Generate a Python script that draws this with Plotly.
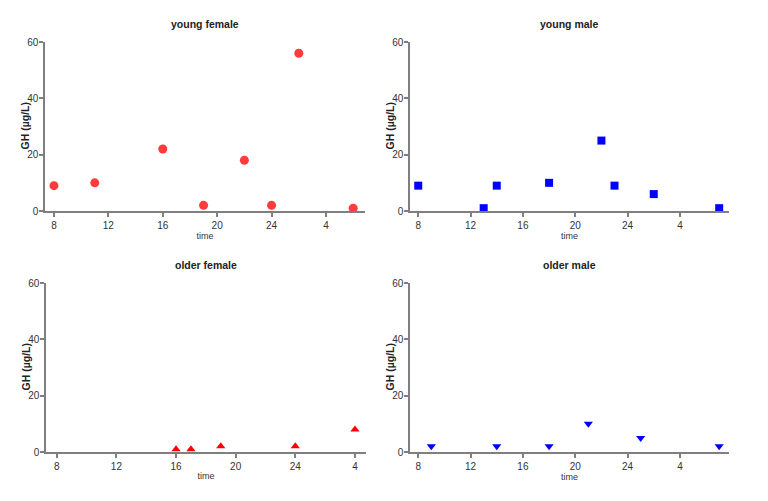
import plotly.graph_objects as go

tick_vals = [8, 12, 16, 20, 24, 28]
tick_text = ["8", "12", "16", "20", "24", "4"]

yf_time = [8, 11, 16, 19, 22, 24, 26, 30]
yf_gh = [9, 10, 22, 2, 18, 2, 56, 1]

ym_time = [8, 13, 14, 18, 22, 23, 26, 31]
ym_gh = [9, 1, 9, 10, 25, 9, 6, 1]

of_time = [16, 17, 19, 24, 28]
of_gh = [1, 1, 2, 2, 8]

om_time = [9, 14, 18, 21, 25, 31]
om_gh = [2, 2, 2, 10, 5, 2]

W, H = 768, 501
OFF = 8  # page body margin offset
FONT = "Liberation Sans, Arial, sans-serif"

panels = [
    dict(title="young female", x=yf_time, y=yf_gh, sym="circle", color="#ff3b3b", size=9,
         px=(45, 365), py=(42, 211), xr=(7.34, 30.87)),
    dict(title="young male", x=ym_time, y=ym_gh, sym="square", color="#0000ff", size=8,
         px=(410, 729), py=(42, 211), xr=(7.37, 31.75)),
    dict(title="older female", x=of_time, y=of_gh, sym="triangle-up", color="#ff0000", size=8,
         px=(46, 366), py=(283, 452), xr=(7.28, 28.74)),
    dict(title="older male", x=om_time, y=om_gh, sym="triangle-down", color="#0000ff", size=8,
         px=(410, 729), py=(283, 452), xr=(7.37, 31.75)),
]

fig = go.Figure()
layout = dict(
    width=W, height=H, margin=dict(l=0, r=0, t=0, b=0, autoexpand=False),
    plot_bgcolor="white", paper_bgcolor="white", showlegend=False,
    font=dict(family=FONT, color="#333333", size=10),
)
annotations = []
for i, p in enumerate(panels, start=1):
    xa = "x" if i == 1 else f"x{i}"
    ya = "y" if i == 1 else f"y{i}"
    fig.add_trace(go.Scatter(
        x=p["x"], y=p["y"], mode="markers", xaxis=xa, yaxis=ya,
        marker=dict(symbol=p["sym"], color=p["color"], size=p["size"],
                    line=dict(width=0)),
    ))
    x0, x1 = (p["px"][0] - OFF) / W, (p["px"][1] - OFF) / W
    y0, y1 = 1 - (p["py"][1] - OFF) / H, 1 - (p["py"][0] - OFF) / H
    xkey = "xaxis" if i == 1 else f"xaxis{i}"
    ykey = "yaxis" if i == 1 else f"yaxis{i}"
    layout[xkey] = dict(
        domain=[x0, x1], anchor=ya, range=list(p["xr"]),
        tickmode="array", tickvals=tick_vals, ticktext=tick_text,
        showline=True, linecolor="#7f7f7f", linewidth=1.5,
        ticks="outside", ticklen=4, tickcolor="#7f7f7f", tickwidth=1.5,
        showgrid=False, zeroline=False,
        tickfont=dict(size=10, color="#333333"),
        title=dict(text="time", font=dict(size=9, color="#333333"), standoff=2),
    )
    layout[ykey] = dict(
        domain=[y0, y1], anchor=xa, range=[0, 60],
        tickmode="array", tickvals=[0, 20, 40, 60],
        showline=True, linecolor="#7f7f7f", linewidth=1.5,
        ticks="outside", ticklen=4, tickcolor="#7f7f7f", tickwidth=1.5,
        ticklabelstandoff=-1,
        showgrid=False, zeroline=False,
        tickfont=dict(size=10, color="#333333"),
    )
    annotations.append(dict(
        text=f"<b>{p['title']}</b>", x=(x0 + x1) / 2, xref="paper",
        y=1 - (p["py"][0] - 18 - OFF) / H, yref="paper",
        xanchor="center", yanchor="middle", showarrow=False,
        font=dict(size=10.5, color="#222222", family=FONT),
    ))
    annotations.append(dict(
        text="<b>GH (µg/L)</b>", textangle=-90,
        x=(p["px"][0] - 21 - OFF) / W, xref="paper",
        y=(y0 + y1) / 2, yref="paper",
        xanchor="center", yanchor="middle", showarrow=False,
        font=dict(size=10.5, color="#222222", family=FONT),
    ))

layout["annotations"] = annotations
fig.update_layout(**layout)
fig.write_html("out.html")
